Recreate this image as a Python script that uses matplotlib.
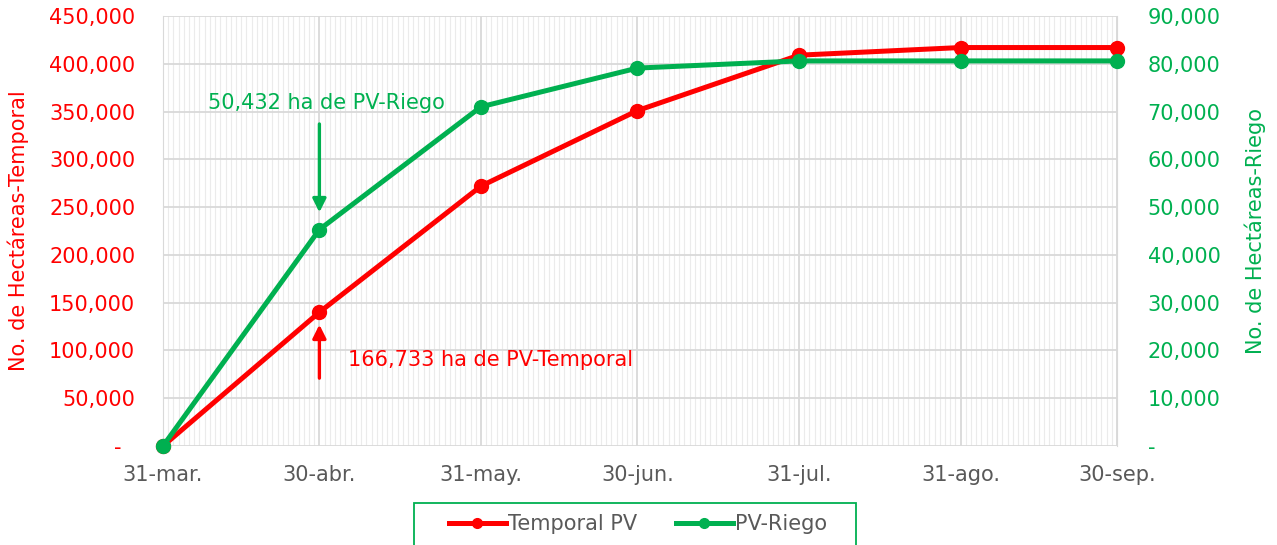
import matplotlib
matplotlib.use("Agg")
import matplotlib.pyplot as plt
import matplotlib.dates as mdates
import matplotlib.ticker as mticker
import matplotlib.patches as patches
import datetime as dt

plt.rcParams['font.family'] = ['DejaVu Sans']

# data
fechas = [dt.date(2023, 3, 31), dt.date(2023, 4, 30), dt.date(2023, 5, 31),
          dt.date(2023, 6, 30), dt.date(2023, 7, 31), dt.date(2023, 8, 31),
          dt.date(2023, 9, 30)]
etiquetas = ["31-mar.", "30-abr.", "31-may.", "30-jun.", "31-jul.", "31-ago.", "30-sep."]
temporal = [0, 140000, 272000, 351000, 409000, 417000, 417000]
riego = [0, 45300, 71000, 79100, 80600, 80600, 80600]

ROJO = "#FF0000"
VERDE = "#00B050"
GRIS = "#595959"
FS = 15
W, H = 1277, 545

fig = plt.figure(figsize=(W / 100, H / 100), dpi=100)
ax = fig.add_axes([163 / W, 1 - 446 / H, (1117 - 163) / W, 430 / H])
ax2 = ax.twinx()

l1, = ax.plot(fechas, temporal, color=ROJO, lw=3.6, marker='o', ms=10,
              label="Temporal PV", zorder=5, clip_on=False)
l2, = ax2.plot(fechas, riego, color=VERDE, lw=3.6, marker='o', ms=10,
               label="PV-Riego", zorder=5, clip_on=False)

ax.set_xlim(fechas[0], fechas[-1])
ax.set_ylim(0, 450000)
ax2.set_ylim(0, 90000)

# grid: daily minor, month majors, horizontal
ax.set_xticks(mdates.date2num(fechas))
ax.set_xticklabels(etiquetas)
ax.xaxis.set_minor_locator(mdates.DayLocator())
ax.grid(axis='x', which='minor', color='#ebebeb', lw=0.8)
ax.grid(axis='x', which='major', color='#d9d9d9', lw=1.3)
ax.yaxis.set_major_locator(mticker.MultipleLocator(50000))
ax.grid(axis='y', color='#d9d9d9', lw=1.3)
ax.set_axisbelow(True)
ax.tick_params(axis='x', which='both', length=0)
ax.tick_params(axis='x', pad=14, labelsize=FS, labelcolor=GRIS)

ax2.yaxis.set_major_locator(mticker.MultipleLocator(10000))
ax.yaxis.set_major_formatter(mticker.FuncFormatter(
    lambda v, p: "-  " if v == 0 else f"{v:,.0f}"))
ax2.yaxis.set_major_formatter(mticker.FuncFormatter(
    lambda v, p: "-" if v == 0 else f"{v:,.0f}"))
ax.tick_params(axis='y', length=0, pad=20, labelsize=FS, labelcolor=ROJO)
ax2.tick_params(axis='y', length=0, pad=22, labelsize=FS, labelcolor=VERDE)

ax.set_ylabel("No. de Hectáreas-Temporal", color=ROJO, fontsize=FS, labelpad=14.5)
ax2.set_ylabel("No. de Hectáreas-Riego", color=VERDE, fontsize=FS, labelpad=17.5)

for a in (ax, ax2):
    for s in a.spines.values():
        s.set_visible(False)
ax.spines['left'].set_visible(True)
ax.spines['left'].set_color('#d9d9d9')
ax.spines['right'].set_visible(True)
ax.spines['right'].set_color('#d9d9d9')

# annotations
x_abr = mdates.date2num(fechas[1])
ax2.annotate("", xy=(fechas[1], 48900), xytext=(fechas[1], 67400),
             arrowprops=dict(arrowstyle='-|>', color=VERDE, lw=2.4,
                             mutation_scale=20, shrinkA=0, shrinkB=0), zorder=6)
ax2.text(x_abr + 1.3, 71800, "50,432 ha de PV-Riego", color=VERDE, fontsize=FS,
         ha='center', va='center')
ax.annotate("", xy=(fechas[1], 127000), xytext=(fechas[1], 71000),
            arrowprops=dict(arrowstyle='-|>', color=ROJO, lw=2.4,
                            mutation_scale=20, shrinkA=0, shrinkB=0), zorder=6)
ax.text(x_abr + 5.5, 89500, "166,733 ha de PV-Temporal",
        color=ROJO, fontsize=FS, ha='left', va='center')

# legend with a frame drawn separately (box runs off the bottom edge)
leg = fig.legend(handles=[l1, l2], loc='center', ncol=2,
                 bbox_to_anchor=(638 / W, 1 - 524 / H), fontsize=FS,
                 frameon=False, columnspacing=1.9,
                 handlelength=2.7, handletextpad=0.1)
for t in leg.get_texts():
    t.set_color(GRIS)
for h in leg.legend_handles:
    h.set_markersize(7)
fig.patches.append(patches.Rectangle((414 / W, -0.02), (856 - 414) / W, 1 - 503 / H + 0.02,
                                     transform=fig.transFigure, fill=False,
                                     edgecolor=VERDE, lw=1.3))

fig.savefig("out.png", dpi=100)
